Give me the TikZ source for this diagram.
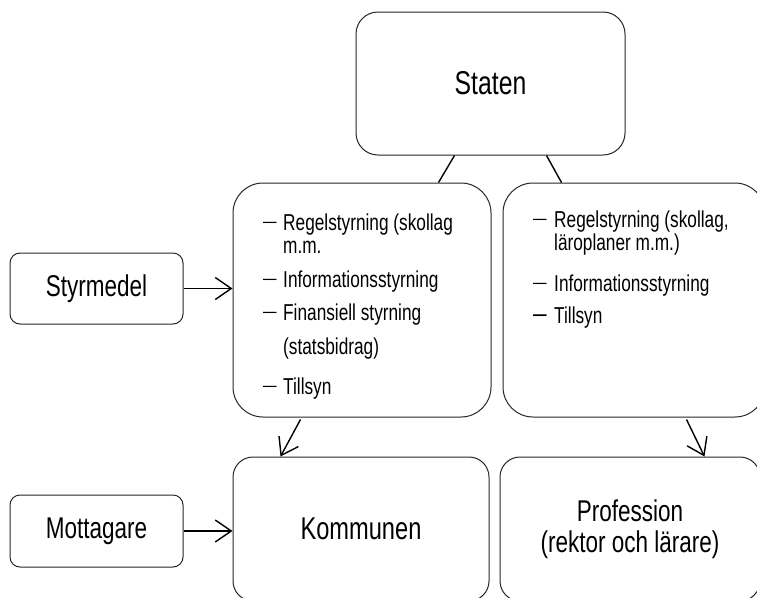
\documentclass[tikz,border=0pt]{standalone}
\usepackage{fontspec}
\setmainfont{Liberation Sans}[FakeStretch=0.75]
\usetikzlibrary{arrows.meta,calc}
\begin{document}
\begin{tikzpicture}[x=1pt,y=-1pt,
  box/.style={draw=black!85, line width=1pt, rounded corners=#1, inner sep=0pt, align=center},
  conn/.style={line width=1.4pt, black},
  arr/.style={line width=1.4pt, black, -{Straight Barb[length=16pt,width=22pt,line width=1.4pt]}},
  item/.style={anchor=base west, inner sep=0pt, font=\fontsize{23}{25}\selectfont},
  dashitem/.style={anchor=base west, inner sep=0pt, font=\fontsize{18}{20}\selectfont}]
\useasboundingbox (0,0) rectangle (757,597);
\clip (0,0) rectangle (757,597);

% boxes
\node[box=22pt, minimum width=269pt, minimum height=143pt, font=\fontsize{33}{35}\selectfont] (staten) at (490.5,83.5) {Staten};
\node[box=30pt, minimum width=258pt, minimum height=234pt] (lbox) at (362,300) {};
\node[box=30pt, minimum width=262pt, minimum height=234pt] (rbox) at (634,300) {};
\node[box=20pt, minimum width=256pt, minimum height=144pt, font=\fontsize{31.5}{33}\selectfont] (komm) at (361,529) {Kommunen};
\node[box=20pt, minimum width=260pt, minimum height=144pt, font=\fontsize{30}{31}\selectfont] (prof) at (630,529) {Profession\\(rektor och lärare)};
\node[box=10pt, minimum width=173pt, minimum height=71pt, font=\fontsize{30}{32}\selectfont] (styr) at (96.5,288.5) {Styrmedel};
\node[box=10pt, minimum width=173pt, minimum height=72pt, font=\fontsize{30}{32}\selectfont] (mott) at (96.5,531) {Mottagare};

% left list
\node[dashitem] (ld1) at (263,227.5) {—};
\node[item] (lt1) at (283,230) {Regelstyrning (skollag};
\node[item] (lt2) at (283,253) {m.m.};
\node[dashitem] (ld2) at (263,284.5) {—};
\node[item] (lt3) at (283,287) {Informationsstyrning};
\node[dashitem] (ld3) at (263,317.5) {—};
\node[item] (lt4) at (283,320) {Finansiell styrning};
\node[item] (lt5) at (283,354) {(statsbidrag)};
\node[dashitem] (ld4) at (263,391.5) {—};
\node[item] (lt6) at (283,394) {Tillsyn};

% right list
\node[dashitem] (rd1) at (533,224.5) {—};
\node[item] (rt1) at (554,227) {Regelstyrning (skollag,};
\node[item] (rt2) at (554,250) {läroplaner m.m.)};
\node[dashitem] (rd2) at (533,288.5) {—};
\node[item] (rt3) at (554,291) {Informationsstyrning};
\node[dashitem, font=\fontsize{18}{20}\selectfont\bfseries] (rd3) at (533,320.5) {—};
\node[item] (rt4) at (554,323) {Tillsyn};

% connectors
\draw[conn] ($(staten.south west)+(99,0)$) -- ($(lbox.north west)+(206,0)$);
\draw[conn] ($(staten.south west)+(191,0)$) -- ($(rbox.north west)+(59,0)$);
\draw[arr] (styr.east) -- (lbox.west |- styr.east);
\draw[arr] (mott.east) -- (komm.west |- mott.east);
\draw[arr] ($(lbox.south west)+(68,2)$) -- ($(komm.north west)+(48,0)$);
\draw[arr] ($(rbox.south west)+(184,2)$) -- ($(prof.north west)+(205,0)$);
\end{tikzpicture}
\end{document}
